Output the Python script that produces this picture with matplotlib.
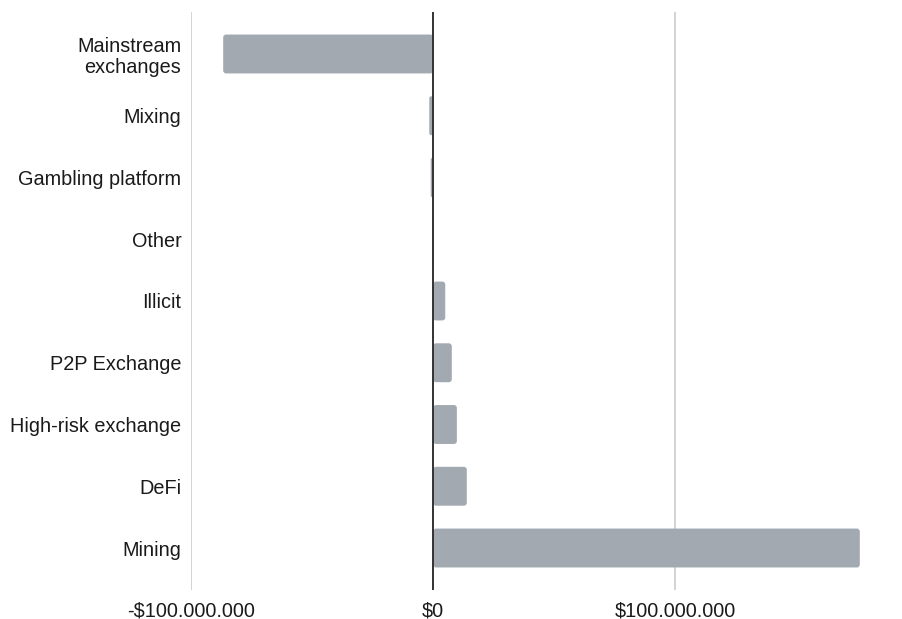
import matplotlib
matplotlib.use("Agg")
import matplotlib.pyplot as plt
from matplotlib.patches import FancyBboxPatch
from matplotlib.ticker import FuncFormatter, FixedLocator

plt.rcParams['font.family'] = ['Liberation Sans', 'DejaVu Sans']

categories = ["Mainstream\nexchanges", "Mixing", "Gambling platform", "Other",
              "Illicit", "P2P Exchange", "High-risk exchange", "DeFi", "Mining"]
values = [-86.7e6, -1.6e6, -1.0e6, -0.3e6, 5.0e6, 7.7e6, 9.8e6, 13.9e6, 176.2e6]
xticks = [-100e6, 0, 100e6]

fig = plt.figure(figsize=(9.03, 6.19), dpi=100)
ax = fig.add_axes([191/903, 1-590/619, (869-191)/903, (590-12)/619])

bar_color = "#a2a9b1"
bars = ax.barh(range(len(categories)), values, height=0.63, color=bar_color, zorder=2)
ax.set_ylim(8.68, -0.68)
ax.set_xlim(-100e6, 180e6)

# rounded corners
px_x = (180e6 + 100e6) / 678.0
px_y = (8.68 + 0.68) / 578.0
r_px = 3.0
for b in bars:
    x0, y0 = b.get_x(), b.get_y()
    w, h = b.get_width(), b.get_height()
    if w < 0:
        x0, w = x0 + w, -w
    r = min(r_px * px_x, w / 2.0)
    fp = FancyBboxPatch((x0, y0), w, h,
                        boxstyle=f"round,pad=0,rounding_size={r}",
                        mutation_aspect=px_y / px_x,
                        facecolor=bar_color, edgecolor="none", zorder=2)
    ax.add_patch(fp)
    b.set_visible(False)

ax.set_yticks(range(len(categories)))
ax.set_yticklabels(categories, fontsize=14.3, color="#1a1a1a", linespacing=1.15)
ax.xaxis.set_major_locator(FixedLocator(xticks))

def fmt(v, pos):
    s = f"{abs(int(round(v))):,}".replace(",", ".")
    return ("-$" if v < 0 else "$") + s
ax.xaxis.set_major_formatter(FuncFormatter(fmt))
for lbl in ax.get_xticklabels():
    lbl.set_fontsize(14.3)
    lbl.set_color("#1a1a1a")

ax.tick_params(axis='both', length=0)
ax.tick_params(axis='y', pad=7)
ax.tick_params(axis='x', pad=8)
for s in ax.spines.values():
    s.set_visible(False)

ax.grid(axis='x', color="#cccccc", linewidth=1.2, zorder=0)
ax.set_axisbelow(True)
ax.axvline(0, color="#333333", linewidth=1.4, zorder=3)

fig.savefig("out.png", dpi=100, facecolor="white")
